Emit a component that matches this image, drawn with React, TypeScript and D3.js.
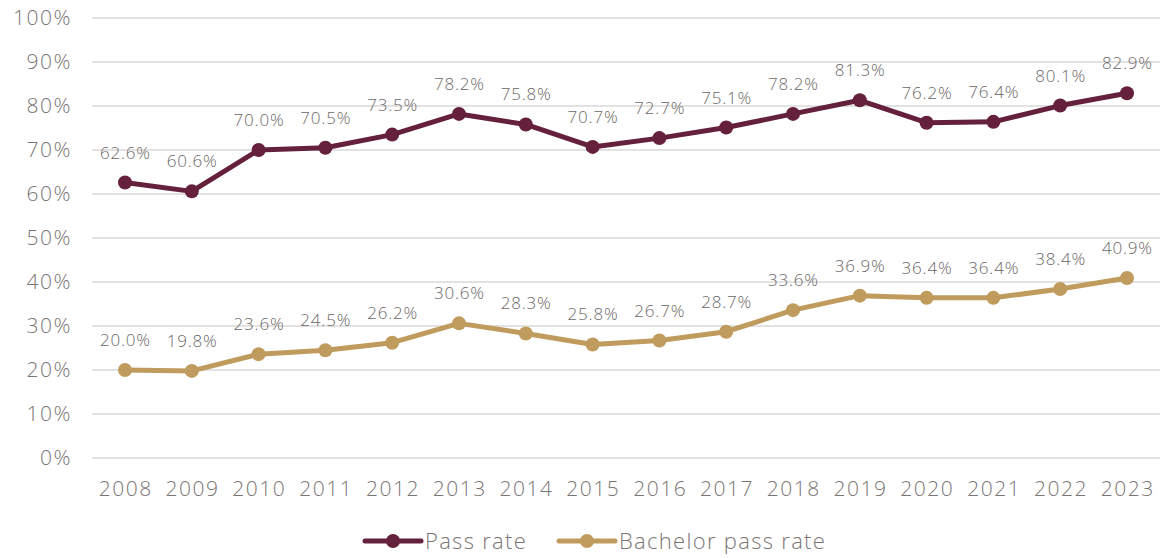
import React, { useEffect, useRef } from 'react';
import * as d3 from 'd3';

const years = ['2008', '2009', '2010', '2011', '2012', '2013', '2014', '2015', '2016', '2017', '2018', '2019', '2020', '2021', '2022', '2023'];
const passRate = [62.6, 60.6, 70.0, 70.5, 73.5, 78.2, 75.8, 70.7, 72.7, 75.1, 78.2, 81.3, 76.2, 76.4, 80.1, 82.9];
const bachelorRate = [20.0, 19.8, 23.6, 24.5, 26.2, 30.6, 28.3, 25.8, 26.7, 28.7, 33.6, 36.9, 36.4, 36.4, 38.4, 40.9];
const yTicks = [0, 10, 20, 30, 40, 50, 60, 70, 80, 90, 100];

const seriesList = [
    { name: 'Pass rate', values: passRate, color: '#65213b' },
    { name: 'Bachelor pass rate', values: bachelorRate, color: '#bf9b5e' },
];

const FONT = '"Open Sans", Lato, sans-serif';

const App = () => {
    const svgRef = useRef<SVGSVGElement>(null);

    useEffect(() => {
        const svg = d3.select(svgRef.current);
        svg.selectAll('*').remove();

        // 比例尺
        const x = d3.scaleBand().domain(years).range([91.6, 1160.4]);
        const y = d3.scaleLinear().domain([0, 100]).range([458, 18]);
        const cx = (d: string) => (x(d) as number) + x.bandwidth() / 2;

        // 网格线
        svg.append('g')
            .selectAll('line')
            .data(yTicks)
            .join('line')
            .attr('x1', 92)
            .attr('x2', 1160)
            .attr('y1', d => y(d))
            .attr('y2', d => y(d))
            .attr('stroke', '#d9d9d9')
            .attr('stroke-width', 1.3);

        // y 轴标签
        svg.append('g')
            .selectAll('text')
            .data(yTicks)
            .join('text')
            .attr('x', 72)
            .attr('y', d => y(d))
            .attr('dy', '0.35em')
            .attr('text-anchor', 'end')
            .attr('font-family', FONT)
            .attr('font-weight', 300)
            .attr('font-size', 21)
            .attr('letter-spacing', 1.5)
            .attr('fill', '#7a7575')
            .text(d => d + '%');

        // x 轴标签
        svg.append('g')
            .selectAll('text')
            .data(years)
            .join('text')
            .attr('x', d => cx(d) + 0.75)
            .attr('y', 489)
            .attr('dy', '0.35em')
            .attr('text-anchor', 'middle')
            .attr('font-family', FONT)
            .attr('font-weight', 300)
            .attr('font-size', 21)
            .attr('letter-spacing', 1.5)
            .attr('fill', '#7a7575')
            .text(d => d);

        const line = d3.line<number>()
            .x((_, i) => cx(years[i]))
            .y(d => y(d));

        seriesList.forEach(s => {
            svg.append('path')
                .datum(s.values)
                .attr('d', line)
                .attr('fill', 'none')
                .attr('stroke', s.color)
                .attr('stroke-width', 5)
                .attr('stroke-linejoin', 'round');

            svg.append('g')
                .selectAll('circle')
                .data(s.values)
                .join('circle')
                .attr('cx', (_, i) => cx(years[i]))
                .attr('cy', d => y(d))
                .attr('r', 7)
                .attr('fill', s.color);

            svg.append('g')
                .selectAll('text')
                .data(s.values)
                .join('text')
                .attr('x', (_, i) => cx(years[i]) + 0.4)
                .attr('y', d => y(d) - 24)
                .attr('text-anchor', 'middle')
                .attr('font-family', FONT)
                .attr('font-weight', 300)
                .attr('font-size', 17)
                .attr('letter-spacing', 0.8)
                .attr('fill', '#6b6767')
                .text(d => d.toFixed(1) + '%');
        });

        // 图例
        const legendX = [365, 559];
        seriesList.forEach((s, i) => {
            const g = svg.append('g').attr('transform', `translate(${legendX[i]},541)`);
            g.append('line')
                .attr('x1', 0).attr('x2', 56)
                .attr('stroke', s.color)
                .attr('stroke-width', 5)
                .attr('stroke-linecap', 'round');
            g.append('circle').attr('cx', 28).attr('r', 7).attr('fill', s.color);
            g.append('text')
                .attr('x', 60)
                .attr('dy', '0.35em')
                .attr('font-family', FONT)
                .attr('font-weight', 300)
                .attr('font-size', 22)
                .attr('letter-spacing', 1.3)
                .attr('fill', '#7a7575')
                .text(s.name);
        });
    }, []);

    return (
        <svg ref={svgRef} width={1162} height={558} style={{ position: 'absolute', left: 0, top: 0 }} />
    );
};

export default App;
